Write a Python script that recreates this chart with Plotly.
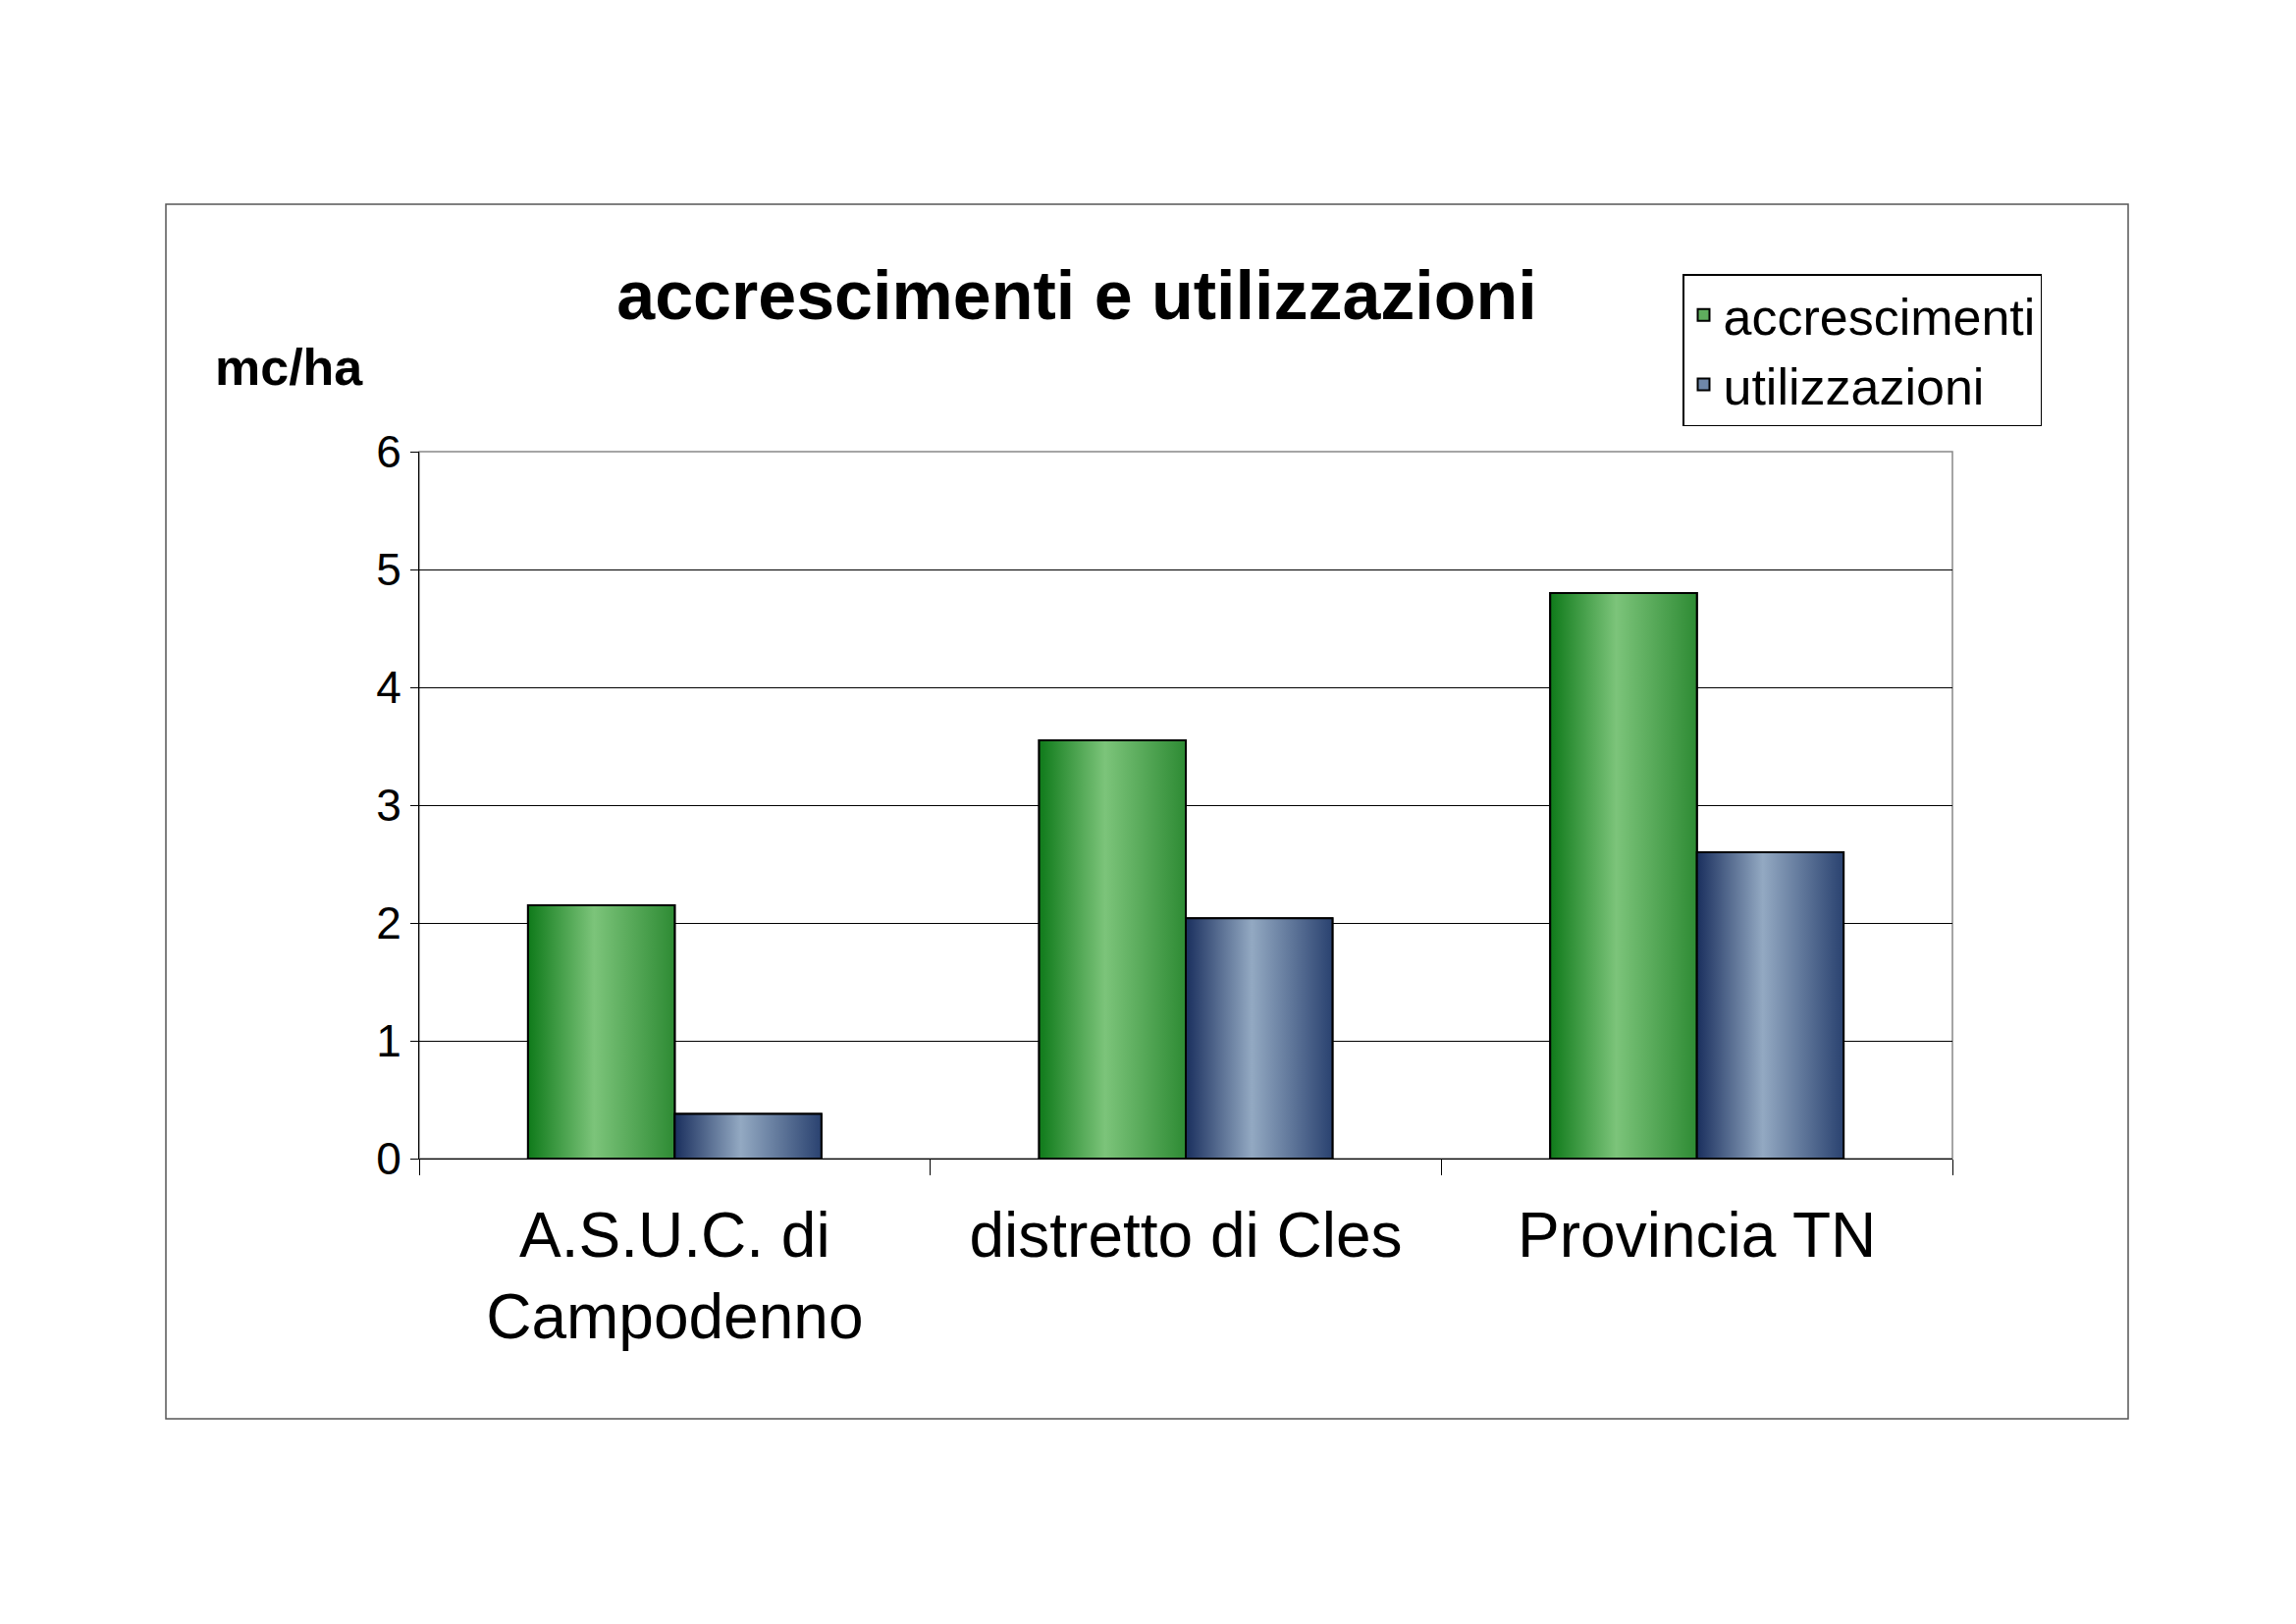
import plotly.graph_objects as go

categories = ["A.S.U.C. di<br>Campodenno", "distretto di Cles", "Provincia TN"]
accrescimenti = [2.15, 3.55, 4.8]
utilizzazioni = [0.38, 2.04, 2.6]

W, H = 2339, 1654
L, R, T, B = 419, 358, 452, 482
PW, PH = W - L - R, H - T - B
bw = 0.287
xs = list(range(len(categories)))

green_scale = [[0, "#0f7a1a"], [0.45, "#7cc47a"], [1, "#2e8b34"]]
blue_scale = [[0, "#1a2f5e"], [0.45, "#93a9c2"], [1, "#2a4270"]]


def px(x):
    return (x - L) / PW


def py(y):
    return (H - B - y) / PH


fig = go.Figure()

# legend-only bars (solid), gradient fills are drawn on top
fig.add_trace(go.Bar(x=xs, y=accrescimenti, name="accrescimenti", width=bw, offset=-bw,
                     marker=dict(color="#5fae5e", line=dict(color="black", width=2))))
fig.add_trace(go.Bar(x=xs, y=utilizzazioni, name="utilizzazioni", width=bw, offset=0,
                     marker=dict(color="#6f87a8", line=dict(color="black", width=2))))


def grad_bar(x0, x1, h, scale):
    fig.add_trace(go.Scatter(
        x=[x0, x1, x1, x0, x0], y=[0, 0, h, h, 0], mode="lines", fill="toself",
        line=dict(color="black", width=2), showlegend=False, hoverinfo="skip",
        fillgradient=dict(type="horizontal", colorscale=scale)))


for i, x in enumerate(xs):
    grad_bar(x - bw, x, accrescimenti[i], green_scale)
    grad_bar(x, x + bw, utilizzazioni[i], blue_scale)

fig.update_layout(
    width=W, height=H, paper_bgcolor="white", plot_bgcolor="white",
    margin=dict(l=L, r=R, t=T, b=B),
    font=dict(family="Liberation Sans, Arial", color="black"),
    barmode="overlay",
    title=dict(text="<b>accrescimenti e utilizzazioni</b>", x=1089 / W, xanchor="center",
               y=1 - 292 / H, yanchor="middle", font=dict(size=70)),
    legend=dict(x=px(1706), y=py(271), xanchor="left", yanchor="top",
                bordercolor="black", borderwidth=1.5, font=dict(size=52),
                bgcolor="white", itemsizing="constant", tracegroupgap=0),
    showlegend=True,
)
fig.update_xaxes(range=[-0.5, 2.5], tickvals=xs, ticktext=categories, ticks="",
                 tickfont=dict(size=64), showline=True, linecolor="black", linewidth=1,
                 showgrid=False, zeroline=False, ticklabelstandoff=22,
                 minor=dict(tickvals=[-0.5, 0.5, 1.5, 2.5], ticks="outside", ticklen=16,
                            tickcolor="black", showgrid=False))
fig.update_yaxes(range=[0, 6], dtick=1, tickfont=dict(size=46), showline=True,
                 linecolor="black", linewidth=1, showgrid=True, gridcolor="black",
                 gridwidth=1, zeroline=False, ticks="outside", ticklen=8,
                 tickcolor="black")
# grey frame of plot area
fig.add_shape(type="rect", xref="paper", yref="paper", x0=0, x1=1, y0=0, y1=1,
              line=dict(color="#888888", width=1.5), layer="below")
# outer chart border
fig.add_shape(type="rect", xref="paper", yref="paper",
              x0=px(161), x1=px(2160), y0=py(1437), y1=py(200),
              line=dict(color="#555555", width=1.5))
fig.add_annotation(text="<b>mc/ha</b>", xref="paper", yref="paper",
                   x=px(209), y=py(366), xanchor="left", yanchor="middle",
                   showarrow=False, font=dict(size=52))

fig.write_html("out.html")
